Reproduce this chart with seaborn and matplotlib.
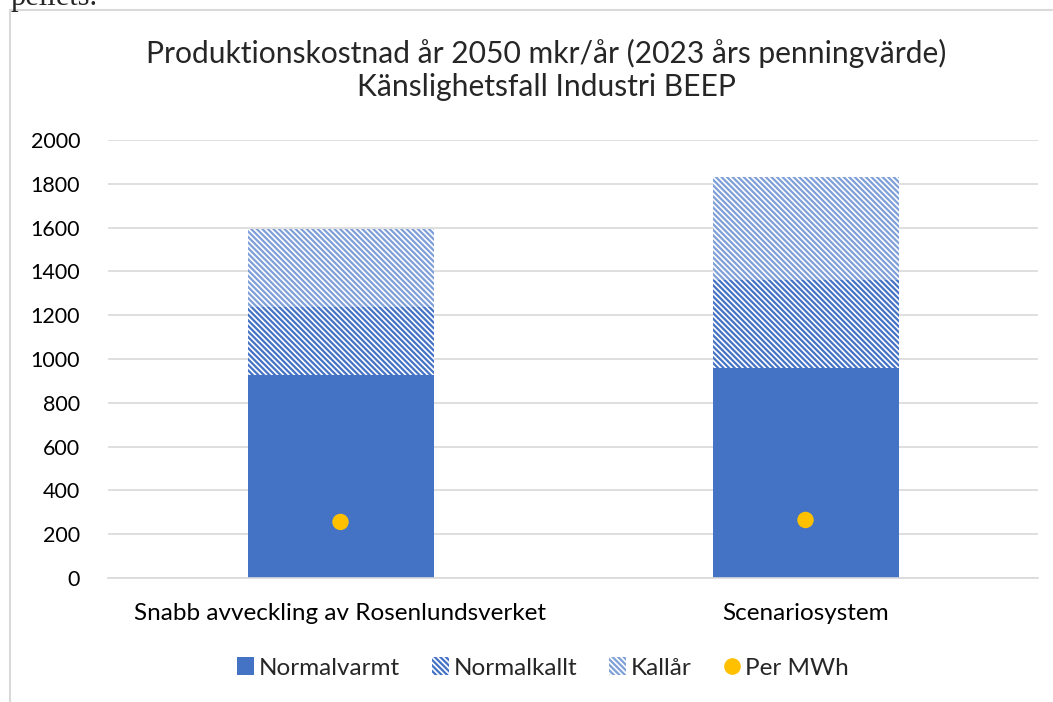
import numpy as np
import pandas as pd
import matplotlib
matplotlib.use("Agg")
import matplotlib.pyplot as plt
import seaborn as sns
from matplotlib.patches import Patch
from matplotlib.lines import Line2D

# --- data (mkr/år) ---
scenarios = ["Snabb avveckling av Rosenlundsverket", "Scenariosystem"]
normalvarmt = [927, 959]
normalkallt = [310, 402]   # added on top of normalvarmt
kallar = [358, 470]        # added on top of normalkallt
per_mwh = [256, 265]
yticks = list(range(0, 2001, 200))

blue = "#4472C4"
light_blue = "#7F9FD8"
gold = "#FFC000"
grid_col = "#D9D9D9"

sns.set_style("white")
plt.rcParams["font.family"] = ["Lato", "DejaVu Sans"]
plt.rcParams["hatch.linewidth"] = 1.6

df = pd.DataFrame({
    "scenario": scenarios,
    "Normalvarmt": normalvarmt,
    "Normalkallt": normalkallt,
    "Kallår": kallar,
    "Per MWh": per_mwh,
})
df["base2"] = df["Normalvarmt"]
df["base3"] = df["Normalvarmt"] + df["Normalkallt"]

fig = plt.figure(figsize=(10.53, 7.02), dpi=100)
ax = fig.add_axes([108 / 1053, 1 - 578 / 702, (1038 - 108) / 1053, (578 - 140) / 702])

sns.barplot(data=df, x="scenario", y="Normalvarmt", color=blue, width=0.4,
            saturation=1, ax=ax, linewidth=0)
n1 = len(ax.patches)
sns.barplot(data=df, x="scenario", y="Normalkallt", bottom=df["base2"], color="white",
            saturation=1, width=0.4, ax=ax, linewidth=0)
for p in ax.patches[n1:]:
    p.set_hatch("\\\\\\\\\\\\")
    p.set_edgecolor(blue)
    p.set_linewidth(0)
n2 = len(ax.patches)
sns.barplot(data=df, x="scenario", y="Kallår", bottom=df["base3"], color="white",
            saturation=1, width=0.4, ax=ax, linewidth=0)
for p in ax.patches[n2:]:
    p.set_hatch("\\\\\\\\\\\\")
    p.set_edgecolor(light_blue)
    p.set_linewidth(0)

sns.scatterplot(data=df, x="scenario", y="Per MWh", color=gold, s=140,
                edgecolor="none", ax=ax, zorder=5, legend=False)

ax.set_xlim(-0.5, 1.5)
ax.set_ylim(0, 2000)
ax.set_yticks(yticks)
ax.yaxis.grid(True, color=grid_col, linewidth=1.2)
ax.set_axisbelow(True)
for s in ["top", "right", "left"]:
    ax.spines[s].set_visible(False)
ax.spines["bottom"].set_color(grid_col)
ax.spines["bottom"].set_linewidth(1.2)
ax.tick_params(axis="y", length=0, pad=20, labelsize=15.5, labelcolor="#000000")
ax.tick_params(axis="x", length=0, pad=18, labelsize=17.5, labelcolor="#000000")
ax.set_xlabel("")
ax.set_ylabel("")

fig.text(546 / 1053, 1 - 53 / 702, "Produktionskostnad år 2050 mkr/år (2023 års penningvärde)",
         ha="center", va="center", fontsize=21.6)
fig.text(546 / 1053, 1 - 87 / 702, "Känslighetsfall Industri BEEP",
         ha="center", va="center", fontsize=21.6)

handles = [
    Patch(facecolor=blue, edgecolor="none"),
    Patch(facecolor="white", edgecolor=blue, hatch="\\\\\\\\\\\\", linewidth=0),
    Patch(facecolor="white", edgecolor=light_blue, hatch="\\\\\\\\\\\\", linewidth=0),
    Line2D([], [], marker="o", color="none", markerfacecolor=gold,
           markeredgecolor="none", markersize=12),
]
fig.legend(handles, ["Normalvarmt", "Normalkallt", "Kallår", "Per MWh"],
           loc="center", bbox_to_anchor=(543 / 1053, 1 - 668 / 702), ncol=4,
           frameon=False, fontsize=17.5, handlelength=0.7, handleheight=0.7,
           handletextpad=0.2, columnspacing=1.3)

# chart frame and the cropped document text above it
fig.add_artist(Line2D([10 / 1053, 10 / 1053], [0, 1 - 10 / 702], transform=fig.transFigure,
                      color=grid_col, linewidth=1.5))
fig.add_artist(Line2D([10 / 1053, 1052 / 1053], [1 - 10 / 702, 1 - 10 / 702],
                      transform=fig.transFigure, color=grid_col, linewidth=1.5))
fig.text(11 / 1053, 1 - 5 / 702, "pellets.", ha="left", va="baseline",
         fontsize=22, family="Liberation Serif")

fig.savefig("out.png", dpi=100)
